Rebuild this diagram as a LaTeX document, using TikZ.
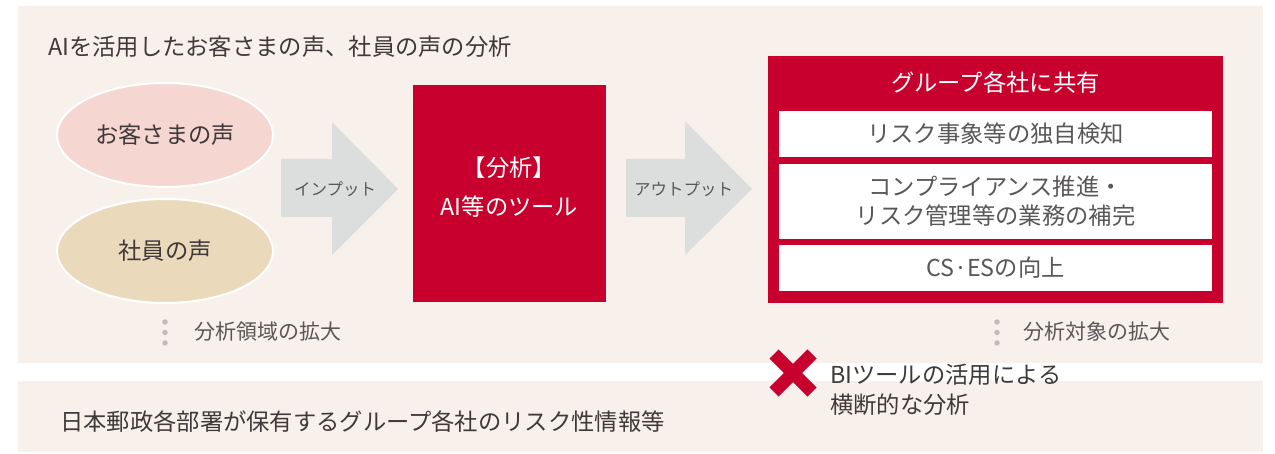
\documentclass[tikz,border=0pt]{standalone}
\usepackage{fontspec}
\setmainfont{Noto Sans CJK JP}
\usetikzlibrary{shapes.geometric}
\definecolor{panelbg}{HTML}{F8F1EB}
\definecolor{jpred}{HTML}{C8002D}
\definecolor{arrowgray}{HTML}{DCDDDD}
\definecolor{pinkfill}{HTML}{F5D6D0}
\definecolor{beigefill}{HTML}{EBD9BB}
\definecolor{darktext}{HTML}{3E3A39}
\definecolor{graytext}{HTML}{595757}
\definecolor{dotgray}{HTML}{BDBDBD}
\tikzset{
  x=1pt, y=-1pt,
  big/.style={font=\fontsize{23.3}{29}\selectfont, inner sep=0pt},
  mid/.style={font=\fontsize{21}{26}\selectfont, inner sep=0pt, text=graytext},
  small/.style={font=\fontsize{16.5}{20}\selectfont, inner sep=0pt, text=graytext},
  voice/.style={ellipse, draw=white, line width=2pt, minimum width=216pt, minimum height=104pt, big, text=darktext},
  whitebox/.style={fill=white, minimum width=433pt, big, text=graytext, align=center},
  dotmark/.style={circle, fill=dotgray, inner sep=0pt, minimum size=5.5pt},
  bigarrow/.style={fill=arrowgray}
}
\begin{document}
\begin{tikzpicture}
\useasboundingbox (0,0) rectangle (1275,454);
\fill[white] (0,0) rectangle (1275,454);
% panels
\fill[panelbg] (18,6) rectangle (1263,363);
\fill[panelbg] (18,381) rectangle (1263,452);
% title
\node[big, text=darktext, anchor=west] (title) at (48,47) {AIを活用したお客さまの声、社員の声の分析};
% voices
\node[voice, fill=pinkfill] (cust) at (165,135) {お客さまの声};
\node[voice, fill=beigefill] (emp) at (165,251) {社員の声};
% input arrow
\fill[bigarrow] (281,159) -- (332,159) -- (332,122) -- (398,189) -- (332,255) -- (332,217) -- (281,217) -- cycle;
\node[small] (inlbl) at (335,189) {インプット};
% analysis box
\node[fill=jpred, minimum width=193pt, minimum height=217pt, inner sep=0pt] (tool) at (509.5,193.5) {};
\node[big, text=white] (toolA) at (509.5,168) {【分析】};
\node[big, text=white] (toolB) at (509.5,207) {AI等のツール};
% output arrow
\fill[bigarrow] (626,159) -- (685,159) -- (685,121) -- (752,189) -- (685,255) -- (685,217) -- (626,217) -- cycle;
\node[small] (outlbl) at (683.5,189) {アウトプット};
% share box
\node[fill=jpred, minimum width=455pt, minimum height=247pt, inner sep=0pt] (share) at (995.5,179.5) {};
\node[big, text=white] (sharet) at (995.5,83) {グループ各社に共有};
\node[whitebox, minimum height=46pt] (w1) at (995.5,134) {リスク事象等の独自検知};
\node[whitebox, minimum height=75pt] (w2) at (995.5,201.5) {コンプライアンス推進・\\リスク管理等の業務の補完};
\node[whitebox, minimum height=46pt] (w3) at (995.5,268) {CS·ESの向上};
% expansion labels
\node[dotmark] (d1) at (165,322) {};
\node[dotmark] (d2) at (165,332.5) {};
\node[dotmark] (d3) at (165,343) {};
\node[mid] (areaexp) at (268,332) {分析領域の拡大};
\node[dotmark] (e1) at (997,322) {};
\node[dotmark] (e2) at (997,332.5) {};
\node[dotmark] (e3) at (997,343) {};
\node[mid] (targexp) at (1097,332) {分析対象の拡大};
% cross
\draw[jpred, line width=13pt] (774,354) -- (812,392);
\draw[jpred, line width=13pt] (812,354) -- (774,392);
\node[big, text=darktext, anchor=west, align=left, font=\fontsize{23.3}{30}\selectfont] (bi) at (830,390) {BIツールの活用による\\横断的な分析};
% bottom
\node[big, text=darktext, anchor=west] (risk) at (60,422) {日本郵政各部署が保有するグループ各社のリスク性情報等};
\end{tikzpicture}
\end{document}
